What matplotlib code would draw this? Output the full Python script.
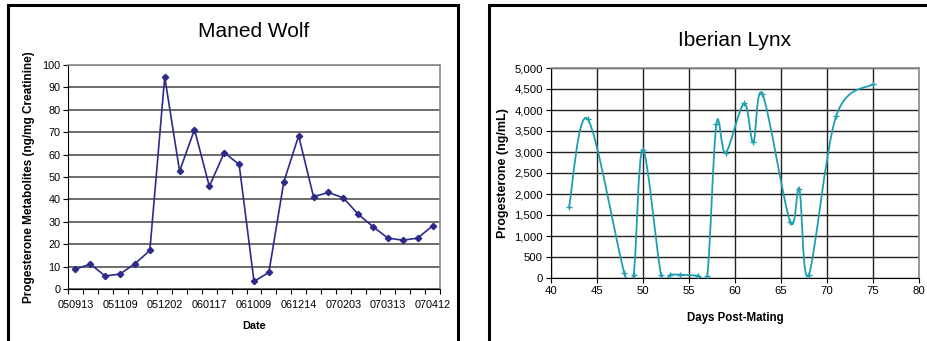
import numpy as np
import matplotlib
matplotlib.use("Agg")
import matplotlib.pyplot as plt
from matplotlib.path import Path
from matplotlib.patches import PathPatch, Rectangle
from matplotlib.ticker import FuncFormatter

plt.rcParams['font.family'] = ['Liberation Sans', 'DejaVu Sans']

# Maned wolf: one value per sample, labels only every third sample
wolf_labels = ["050913", "051109", "051202", "060117", "061009",
               "061214", "070203", "070313", "070412"]
wolf_values = [8.9, 11.1, 5.8, 6.7, 11.3, 17.2, 94.7, 52.6, 71.2, 45.8,
               60.9, 55.6, 3.4, 7.4, 47.7, 68.4, 41.2, 43.1, 40.7, 33.4,
               27.8, 22.7, 21.8, 22.7, 28.2]

# Iberian lynx
lynx_days = [42, 44, 48, 49, 50, 52, 53, 54, 56, 57, 58, 59, 61, 62, 63,
             66, 67, 68, 71, 75]
lynx_prog = [1700, 3790, 119, 64, 3057, 64, 80, 80, 56, 48, 3670, 2978,
             4156, 3232, 4379, 1345, 2110, 64, 3853, 4618]

WOLF_COL = "#2E2A8A"
LYNX_COL = "#1E9FB0"

W, H = 927, 341
fig = plt.figure(figsize=(W / 100, H / 100), dpi=100)

# outer frames of the two pasted charts
for x0, x1 in [(8, 458), (489, 940)]:
    fig.add_artist(Rectangle((x0 / W, -0.1), (x1 - x0) / W, (H - 5) / H + 0.1,
                             transform=fig.transFigure, fill=False,
                             edgecolor="black", lw=2.2, clip_on=False))


def style_axes(ax, size):
    for s in ["top", "right"]:
        ax.spines[s].set_color("#8a8a8a")
        ax.spines[s].set_linewidth(1.2)
    for s in ["left", "bottom"]:
        ax.spines[s].set_color("black")
        ax.spines[s].set_linewidth(0.8)
    ax.tick_params(direction="out", length=3.5, width=0.8, labelsize=size,
                   colors="black", pad=2)
    ax.set_axisbelow(True)


# ---- Maned Wolf ----
ax1 = fig.add_axes([68 / W, (H - 289) / H, 372 / W, 224 / H])
style_axes(ax1, 7.8)
n = len(wolf_values)
xs = np.arange(n) + 0.5
ax1.plot(xs, wolf_values, color=WOLF_COL, lw=1.2, marker="D", ms=3.2,
         mec=WOLF_COL, mfc=WOLF_COL, zorder=3)
ax1.set_xlim(0, n)
ax1.set_ylim(0, 100)
ax1.set_yticks(np.arange(0, 101, 10))
ax1.set_xticks(np.arange(0, n + 1))
ax1.set_xticklabels([])
ax1.set_xticks(xs[::3], minor=True)
ax1.set_xticklabels(wolf_labels, minor=True)
ax1.tick_params(axis="x", which="minor", length=0, labelsize=7.8, pad=8)
ax1.grid(axis="y", color="#444444", lw=1.1)
ax1.set_title("Maned Wolf", fontsize=15, pad=20)
ax1.set_xlabel("Date", fontsize=7.8, fontweight="bold", labelpad=8)
ax1.set_ylabel("Progesterone Metabolites (ng/mg Creatinine)", fontsize=8.5,
               fontweight="bold", labelpad=5)

# ---- Iberian Lynx ----
ax2 = fig.add_axes([550.7 / W, (H - 278) / H, 368.3 / W, 210 / H])
style_axes(ax2, 8.2)
ax2.set_xlim(40, 80)
ax2.set_ylim(0, 5000)
ax2.set_xticks(np.arange(40, 81, 5))
ax2.set_yticks(np.arange(0, 5001, 500))
ax2.yaxis.set_major_formatter(FuncFormatter(lambda v, p: f"{int(v):,}"))
ax2.grid(color="#222222", lw=1.0)

# smoothed line (Excel style Bezier through the data points)
px = np.array(lynx_days, float)
py = np.array(lynx_prog, float)
verts = [(px[0], py[0])]
codes = [Path.MOVETO]
m = len(px)
for i in range(m - 1):
    p0 = np.array([px[max(i - 1, 0)], py[max(i - 1, 0)]])
    p1 = np.array([px[i], py[i]])
    p2 = np.array([px[i + 1], py[i + 1]])
    p3 = np.array([px[min(i + 2, m - 1)], py[min(i + 2, m - 1)]])
    c1 = p1 + (p2 - p0) / 6
    c2 = p2 - (p3 - p1) / 6
    verts += [tuple(c1), tuple(c2), tuple(p2)]
    codes += [Path.CURVE4] * 3
ax2.add_patch(PathPatch(Path(verts, codes), fill=False, edgecolor=LYNX_COL,
                        lw=1.3, zorder=3))
ax2.plot(px, py, ls="none", marker="+", ms=4, mew=1.0, color=LYNX_COL,
         zorder=4)
ax2.set_title("Iberian Lynx", fontsize=15, pad=16)
ax2.set_xlabel("Days Post-Mating", fontsize=8.3, fontweight="bold",
               labelpad=12)
ax2.set_ylabel("Progesterone (ng/mL)", fontsize=9, fontweight="bold",
               labelpad=4)

fig.savefig("out.png", dpi=100)
